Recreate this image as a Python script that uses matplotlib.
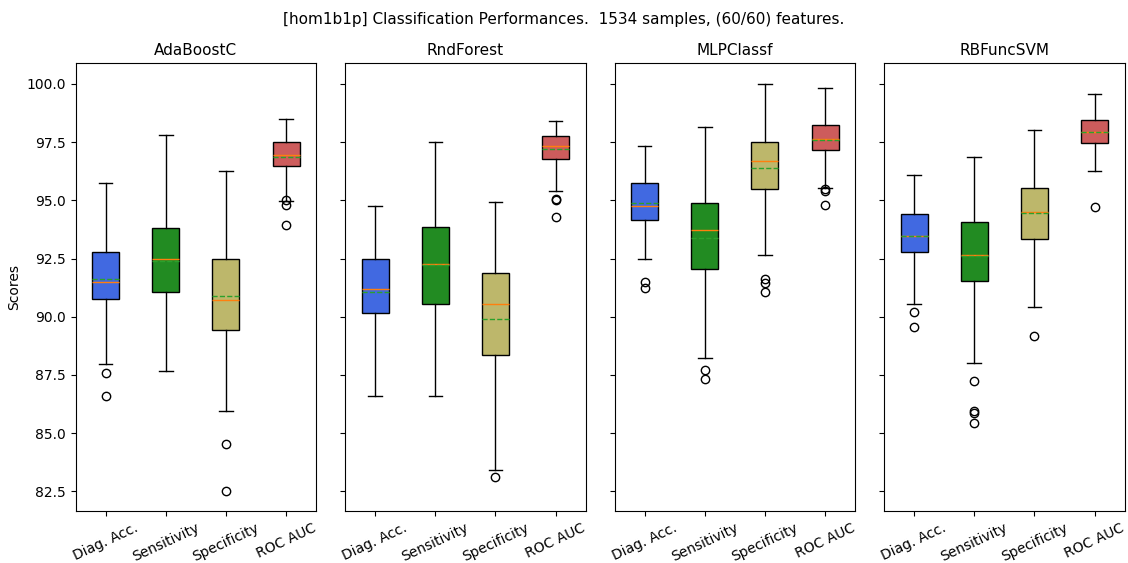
import numpy as np
import matplotlib.pyplot as plt

# Values (box stats per classifier / metric)
classifiers = ["AdaBoostC", "RndForest", "MLPClassf", "RBFuncSVM"]
metrics = ["Diag. Acc.", "Sensitivity", "Specificity", "ROC AUC"]
box_colors = ["royalblue", "forestgreen", "darkkhaki", "indianred"]

# rows: classifier, cols: metric
whislo = [[87.95, 87.65, 85.95, 94.98],
          [86.61, 86.61, 83.43, 95.41],
          [92.48, 88.23, 92.65, 95.54],
          [90.53, 88.02, 90.41, 96.24]]
q1 = [[90.78, 91.04, 89.44, 96.49],
      [90.14, 90.54, 88.35, 96.78],
      [94.14, 92.03, 95.47, 97.16],
      [92.80, 91.53, 93.34, 97.45]]
med = [[91.49, 92.48, 90.71, 96.93],
       [91.20, 92.27, 90.53, 97.35],
       [94.75, 93.71, 96.70, 97.65],
       [93.48, 92.65, 94.50, 97.94]]
mean = [[91.62, 92.38, 90.87, 96.86],
        [91.04, 92.23, 89.92, 97.19],
        [94.87, 93.38, 96.37, 97.59],
        [93.48, 92.60, 94.47, 97.92]]
q3 = [[92.80, 93.79, 92.48, 97.49],
      [92.48, 93.84, 91.86, 97.75],
      [95.73, 94.87, 97.52, 98.25],
      [94.41, 94.09, 95.54, 98.44]]
whishi = [[95.74, 97.81, 96.24, 98.48],
          [94.75, 97.49, 94.95, 98.42],
          [97.35, 98.14, 100.0, 99.83],
          [96.07, 96.86, 98.02, 99.57]]
fliers = [[[87.60, 86.61], [], [84.51, 82.51], [95.01, 94.80, 93.94]],
          [[], [], [83.10], [95.07, 95.01, 94.27]],
          [[91.49, 91.23], [87.72, 87.32], [91.60, 91.43, 91.07], [95.47, 95.40, 94.80]],
          [[90.21, 89.54], [87.23, 85.95, 85.87, 85.42], [89.18], [94.73]]]

fig, axes = plt.subplots(1, 4, figsize=(11.28, 5.63), dpi=100, sharey=True)
fig.subplots_adjust(left=0.067, right=0.997, top=0.888, bottom=0.092, wspace=0.12)
fig.suptitle("[hom1b1p] Classification Performances.  1534 samples, (60/60) features.",
             fontsize=11, y=0.979)

for i, ax in enumerate(axes):
    stats = []
    for j in range(len(metrics)):
        stats.append(dict(med=med[i][j], q1=q1[i][j], q3=q3[i][j], mean=mean[i][j],
                          whislo=whislo[i][j], whishi=whishi[i][j],
                          fliers=fliers[i][j], label=metrics[j]))
    bp = ax.bxp(stats, patch_artist=True, showmeans=True, meanline=True)
    for patch, c in zip(bp["boxes"], box_colors):
        patch.set_facecolor(c)
    ax.set_title(classifiers[i], fontsize=11)
    ax.tick_params(axis="x", labelrotation=25)
    ax.tick_params(labelsize=10)

axes[0].set_ylabel("Scores")
axes[0].set_ylim(81.64, 100.9)

plt.savefig("out.png")
